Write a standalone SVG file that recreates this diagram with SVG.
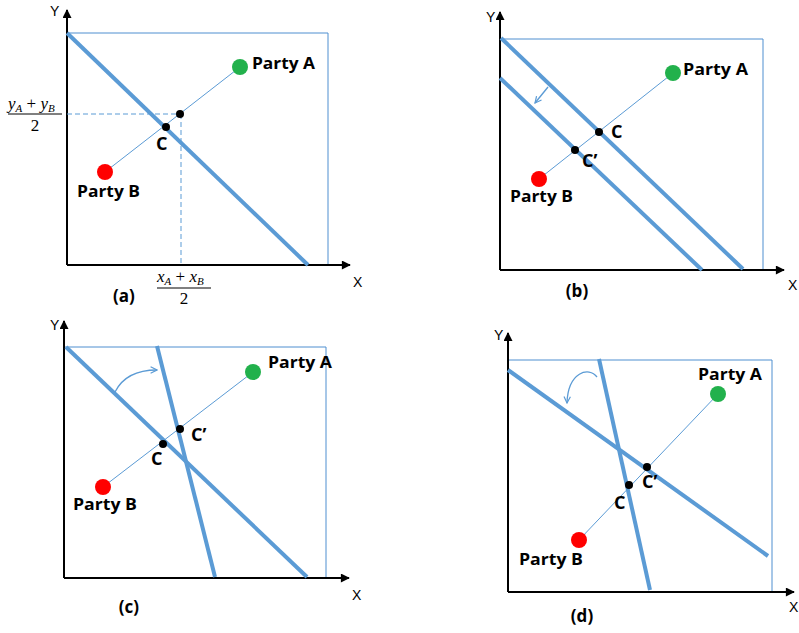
<svg xmlns="http://www.w3.org/2000/svg" width="799" height="633" viewBox="0 0 799 633">
<style>
.bg{fill:#fff}
.axis{stroke:#000;stroke-width:2;fill:none}
.box{stroke:#4f8fd0;stroke-width:1;fill:none}
.thick{stroke:#5b9bd5;stroke-width:4;fill:none;stroke-linecap:butt}
.thin{stroke:#5b9bd5;stroke-width:1;fill:none}
.dash{stroke:#5b9bd5;stroke-width:1;fill:none;stroke-dasharray:5 3}
.rot{stroke:#5b9bd5;stroke-width:1.3;fill:none}
.ga{fill:#22b14c}
.rb{fill:#ff0000}
.pt{fill:#000}
.lbl{font-family:"Open Sans","Liberation Sans",sans-serif;font-weight:700;font-size:16px;fill:#000}
.cl{font-family:"Open Sans","Liberation Sans",sans-serif;font-weight:700;font-size:18px;fill:#000}
.ax{font-family:"Liberation Sans",Arial,sans-serif;font-size:14px;fill:#000}
.cap{font-family:"Open Sans","Liberation Sans",sans-serif;font-weight:700;font-size:17px;fill:#000}
.m{font-family:"Liberation Serif","Times New Roman",serif;font-size:17px;fill:#000}
.mi{font-style:italic}
.sub{font-size:11px;font-style:italic}
</style>
<defs>
<marker id="axh" viewBox="0 0 10 10" refX="9" refY="5" markerWidth="10" markerHeight="9" markerUnits="userSpaceOnUse" orient="auto"><path d="M0,0 L10,5 L0,10 z" fill="#000"/></marker>
<marker id="blh" viewBox="0 0 10 10" refX="9" refY="5" markerWidth="8" markerHeight="8" markerUnits="userSpaceOnUse" orient="auto"><path d="M1,1 L9,5 L1,9" fill="none" stroke="#5b9bd5" stroke-width="1.5"/></marker>
</defs>
<rect class="bg" x="0" y="0" width="799" height="633"/>

<!-- Panel (a) -->
<g id="panel-a">
  <g id="a-connectors">
    <polyline class="box" points="67,33 328,33 328,265"/>
    <line class="axis" x1="67" y1="265" x2="67" y2="10" marker-end="url(#axh)"/>
    <line class="axis" x1="67" y1="265" x2="350" y2="265" marker-end="url(#axh)"/>
    <line class="thick" x1="67" y1="33" x2="308" y2="265"/>
    <line class="thin" x1="105" y1="172" x2="240" y2="67"/>
    <line class="dash" x1="67" y1="114" x2="180" y2="114"/>
    <line class="dash" x1="181" y1="114" x2="181" y2="264"/>
  </g>
  <text class="ax" x="50" y="16">Y</text>
  <text class="ax" x="353" y="287">X</text>
  <g id="a-partyA"><circle class="ga" cx="240" cy="67" r="8"/><text class="lbl" x="252" y="69" textLength="63" lengthAdjust="spacingAndGlyphs">Party A</text></g>
  <g id="a-partyB"><circle class="rb" cx="105" cy="172" r="8"/><text class="lbl" x="77" y="197" textLength="63" lengthAdjust="spacingAndGlyphs">Party B</text></g>
  <g id="a-mid"><circle class="pt" cx="180" cy="114" r="4"/></g>
  <g id="a-C"><circle class="pt" cx="166" cy="127" r="4"/><text class="cl" x="156" y="150">C</text></g>
  <g id="a-yfrac">
    <text class="m" x="8" y="109"><tspan class="mi">y</tspan><tspan class="sub" dy="3">A</tspan><tspan dy="-3"> + </tspan><tspan class="mi">y</tspan><tspan class="sub" dy="3">B</tspan></text>
    <line x1="8" y1="114" x2="62" y2="114" stroke="#000" stroke-width="1"/>
    <text class="m" x="35" y="131" text-anchor="middle">2</text>
  </g>
  <g id="a-xfrac">
    <text class="m" x="157" y="282"><tspan class="mi">x</tspan><tspan class="sub" dy="3">A</tspan><tspan dy="-3"> + </tspan><tspan class="mi">x</tspan><tspan class="sub" dy="3">B</tspan></text>
    <line x1="157" y1="288" x2="211" y2="288" stroke="#000" stroke-width="1"/>
    <text class="m" x="184" y="304" text-anchor="middle">2</text>
  </g>
  <text class="cap" x="124" y="302" text-anchor="middle">(a)</text>
</g>

<!-- Panel (b) -->
<g id="panel-b">
  <g id="b-connectors">
    <polyline class="box" points="500,39 763,39 763,270"/>
    <line class="axis" x1="500" y1="270" x2="500" y2="12" marker-end="url(#axh)"/>
    <line class="axis" x1="500" y1="270" x2="784" y2="270" marker-end="url(#axh)"/>
    <line class="thick" x1="501" y1="38" x2="743" y2="269"/>
    <line class="thick" x1="500" y1="78" x2="702" y2="270"/>
    <line class="thin" x1="539" y1="179" x2="673" y2="73"/>
    <line class="rot" x1="548" y1="87" x2="535" y2="103" marker-end="url(#blh)"/>
  </g>
  <text class="ax" x="486" y="22">Y</text>
  <text class="ax" x="788" y="290">X</text>
  <g id="b-partyA"><circle class="ga" cx="673" cy="73" r="8"/><text class="lbl" x="683" y="75" textLength="65" lengthAdjust="spacingAndGlyphs">Party A</text></g>
  <g id="b-partyB"><circle class="rb" cx="539" cy="179" r="8"/><text class="lbl" x="510" y="202" textLength="63" lengthAdjust="spacingAndGlyphs">Party B</text></g>
  <g id="b-C"><circle class="pt" cx="599" cy="132" r="4"/><text class="cl" x="611" y="138">C</text></g>
  <g id="b-Cp"><circle class="pt" cx="575" cy="150" r="4"/><text class="cl" x="582" y="167">C’</text></g>
  <text class="cap" x="577" y="297" text-anchor="middle">(b)</text>
</g>

<!-- Panel (c) -->
<g id="panel-c">
  <g id="c-connectors">
    <polyline class="box" points="64,347 326,347 326,578"/>
    <line class="axis" x1="64" y1="578" x2="64" y2="321" marker-end="url(#axh)"/>
    <line class="axis" x1="64" y1="578" x2="349" y2="578" marker-end="url(#axh)"/>
    <line class="thick" x1="66" y1="347" x2="307" y2="577"/>
    <line class="thick" x1="157" y1="346" x2="215" y2="577"/>
    <line class="thin" x1="103" y1="487" x2="253" y2="372"/>
    <path class="rot" d="M115,392 Q126,370 157,370" marker-end="url(#blh)"/>
  </g>
  <text class="ax" x="50" y="330">Y</text>
  <text class="ax" x="352" y="600">X</text>
  <g id="c-partyA"><circle class="ga" cx="253" cy="372" r="8"/><text class="lbl" x="268" y="368" textLength="64" lengthAdjust="spacingAndGlyphs">Party A</text></g>
  <g id="c-partyB"><circle class="rb" cx="103" cy="487" r="8"/><text class="lbl" x="73" y="510" textLength="64" lengthAdjust="spacingAndGlyphs">Party B</text></g>
  <g id="c-C"><circle class="pt" cx="163" cy="444" r="4"/><text class="cl" x="151" y="465">C</text></g>
  <g id="c-Cp"><circle class="pt" cx="180" cy="429" r="4"/><text class="cl" x="191" y="441">C’</text></g>
  <text class="cap" x="129" y="613" text-anchor="middle">(c)</text>
</g>

<!-- Panel (d) -->
<g id="panel-d">
  <g id="d-connectors">
    <polyline class="box" points="508,360 772,360 772,592"/>
    <line class="axis" x1="508" y1="592" x2="508" y2="333" marker-end="url(#axh)"/>
    <line class="axis" x1="508" y1="592" x2="794" y2="592" marker-end="url(#axh)"/>
    <line class="thick" x1="508" y1="370" x2="768" y2="556"/>
    <line class="thick" x1="599" y1="359" x2="650" y2="590"/>
    <line class="thin" x1="579" y1="540" x2="718" y2="394"/>
    <path class="rot" d="M597,377 C589,366 568,372 567,403" marker-end="url(#blh)"/>
  </g>
  <text class="ax" x="494" y="340">Y</text>
  <text class="ax" x="789" y="612">X</text>
  <g id="d-partyA"><circle class="ga" cx="718" cy="394" r="8"/><text class="lbl" x="698" y="380" textLength="64" lengthAdjust="spacingAndGlyphs">Party A</text></g>
  <g id="d-partyB"><circle class="rb" cx="579" cy="540" r="8"/><text class="lbl" x="519" y="565" textLength="64" lengthAdjust="spacingAndGlyphs">Party B</text></g>
  <g id="d-C"><circle class="pt" cx="629" cy="485" r="4"/><text class="cl" x="614" y="509">C</text></g>
  <g id="d-Cp"><circle class="pt" cx="647" cy="467" r="4"/><text class="cl" x="642" y="488">C’</text></g>
  <text class="cap" x="582" y="622" text-anchor="middle">(d)</text>
</g>
</svg>
